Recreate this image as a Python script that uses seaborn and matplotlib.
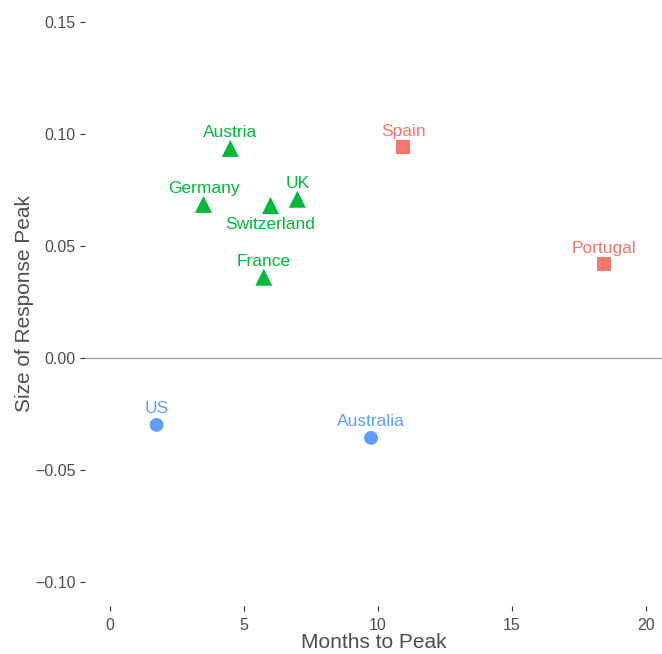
import matplotlib
matplotlib.use("Agg")
import matplotlib.pyplot as plt
import pandas as pd
import seaborn as sns

# data
countries = ["Spain", "Portugal", "Austria", "Germany", "Switzerland", "UK", "France", "US", "Australia"]
months_to_peak = [10.95, 18.45, 4.5, 3.5, 6.0, 7.0, 5.75, 1.75, 9.75]
peak_size = [0.094, 0.0418, 0.0935, 0.0685, 0.0680, 0.0708, 0.0360, -0.0300, -0.0358]
group = ["A", "A", "B", "B", "B", "B", "B", "C", "C"]

palette = {"A": "#F8766D", "B": "#00BA38", "C": "#619CFF"}
markers = {"A": "s", "B": "^", "C": "o"}
marker_sizes = {"A": 100, "B": 150, "C": 100}
below = {"Switzerland"}

df = pd.DataFrame({"country": countries, "months": months_to_peak,
                   "size": peak_size, "group": group})

sns.set_theme(style="white")
plt.rcParams["font.family"] = ["Liberation Sans", "DejaVu Sans"]

fig = plt.figure(figsize=(6.62, 6.54), dpi=100)
ax = fig.add_axes([0.128, 0.073, 0.872, 0.927])

ax.axhline(0, color="#9a9a9a", linewidth=0.9, zorder=1)

sns.scatterplot(data=df, x="months", y="size", hue="group", style="group",
                size="group", sizes=marker_sizes,
                palette=palette, markers=markers, linewidth=0,
                legend=False, ax=ax, zorder=3)

for _, row in df.iterrows():
    dy = -13.5 if row["country"] in below else 11.5
    ax.annotate(row["country"], (row["months"], row["size"]),
                xytext=(0, dy), textcoords="offset points",
                ha="center", va="center", fontsize=12.5,
                color=palette[row["group"]])

ax.set_xlim(-0.93, 20.6)
ax.set_ylim(-0.111, 0.1598)
ax.set_xticks([0, 5, 10, 15, 20])
ax.set_yticks([-0.10, -0.05, 0.00, 0.05, 0.10, 0.15])
ax.set_yticklabels(["\u22120.10", "\u22120.05", "0.00", "0.05", "0.10", "0.15"])
for s in ax.spines.values():
    s.set_visible(False)
ax.tick_params(axis="both", which="both", length=3.5, width=0.8, color="#333333",
               labelcolor="#4D4D4D", labelsize=11.5, pad=3,
               bottom=True, left=True)
ax.tick_params(axis="x", pad=5)
ax.set_xlabel("Months to Peak", fontsize=15, color="#4D4D4D", labelpad=0)
ax.set_ylabel("Size of Response Peak", fontsize=15, color="#4D4D4D", labelpad=1)

fig.savefig("out.png", dpi=100)
